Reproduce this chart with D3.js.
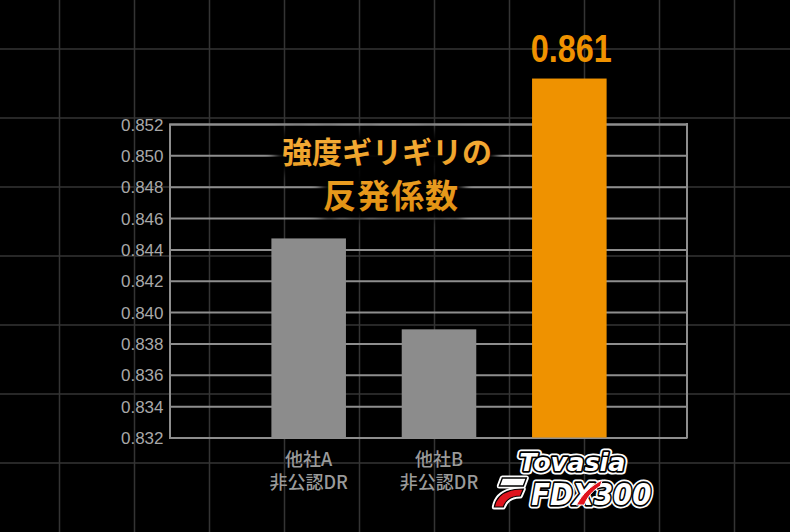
<!DOCTYPE html>
<html><head><meta charset="utf-8">
<script src="https://cdn.jsdelivr.net/npm/d3@7"></script>
<style>
html,body{margin:0;padding:0;background:#000;}
svg{display:block;}
</style></head>
<body>
<svg id="chart" width="790" height="532"></svg>
<script>
// ---- data ----
const categories = ["他社A", "他社B", "FDX300"];
const categorySubLabels = ["非公認DR", "非公認DR", ""];
const values = [0.8447, 0.8389, 0.861];
const valueLabels = ["", "", "0.861"];
const yTicks = [0.832, 0.834, 0.836, 0.838, 0.840, 0.842, 0.844, 0.846, 0.848, 0.850, 0.852];
const yTickLabels = ["0.832","0.834","0.836","0.838","0.840","0.842","0.844","0.846","0.848","0.850","0.852"];
const axisBreakValue = 0.8549; // highlighted bar is cut off here (axis break)
const titleLines = ["強度ギリギリの", "反発係数"];
const logoLines = ["Tovasia", "FDX300"];

// ---- layout ----
const W = 790, H = 532;
const plot = {left: 169.5, right: 687, top: 124, bottom: 437.5};
const svg = d3.select("#chart");
svg.append("rect").attr("width", W).attr("height", H).attr("fill", "#000");

const defs = svg.append("defs");
const tg = defs.append("linearGradient").attr("id","titleGrad").attr("x1",0).attr("y1",0).attr("x2",0).attr("y2",1);
tg.append("stop").attr("offset","0%").attr("stop-color","#f7ae3a");
tg.append("stop").attr("offset","100%").attr("stop-color","#e0900f");
const blur = defs.append("filter").attr("id","glow").attr("x","-20%").attr("y","-40%").attr("width","140%").attr("height","180%");
blur.append("feGaussianBlur").attr("stdDeviation", 5);

// background grid
const bg = svg.append("g");
d3.range(59.5, W, 75).forEach(x => bg.append("line").attr("x1",x).attr("x2",x).attr("y1",0).attr("y2",H)
  .attr("stroke","#343434").attr("stroke-width",1.5));
d3.range(49, H, 69).forEach(y => bg.append("line").attr("y1",y).attr("y2",y).attr("x1",0).attr("x2",W)
  .attr("stroke","#343434").attr("stroke-width",1.5));

// scales
const y = d3.scaleLinear().domain([yTicks[0], yTicks[yTicks.length-1]]).range([plot.bottom, plot.top]);
const x = d3.scaleBand().domain(categories).range([243.5, 634.5]).paddingInner(0.428).paddingOuter(0.214);

// y axis + gridlines
const yAxis = d3.axisLeft(y).tickValues(yTicks).tickFormat((d,i) => yTickLabels[i])
  .tickSize(-(plot.right - plot.left)).tickPadding(6);
const ag = svg.append("g").attr("transform", `translate(${plot.left},0)`).call(yAxis);
ag.select(".domain").attr("stroke","#8e8e8e").attr("stroke-width",2);
ag.selectAll(".tick line").attr("stroke","#8e8e8e").attr("stroke-width",2);
ag.selectAll(".tick text").attr("fill","#a8a8a8").attr("font-size","17px")
  .attr("font-family","'Liberation Sans', Arial, sans-serif").attr("dy","0.36em");
svg.append("line").attr("x1",plot.right).attr("x2",plot.right).attr("y1",plot.top-1).attr("y2",plot.bottom+1)
  .attr("stroke","#8e8e8e").attr("stroke-width",2);

// title with dark glow (one text element, two lines)
const tG = svg.append("g").attr("font-family","'Noto Sans CJK JP', sans-serif").attr("font-weight",700).attr("text-anchor","middle");
const titleSpec = [{x:387, y:163, size:30}, {x:391, y:208, size:33}];
function titleText(fillSel) {
  const t = tG.append("text");
  titleLines.forEach((s,i) => {
    t.append("tspan").attr("x",titleSpec[i].x).attr("y",titleSpec[i].y).attr("font-size",titleSpec[i].size)
      .attr("letter-spacing", i===1 ? "1px" : "0px").text(s);
  });
  fillSel(t);
}
titleText(t => t.attr("fill","#000").attr("stroke","#000").attr("stroke-width",14).attr("filter","url(#glow)"));
titleText(t => t.attr("fill","url(#titleGrad)"));

// bars
const barColor = (d,i) => i === values.length-1 ? "#ef9200" : "#8c8c8c";
svg.append("g").selectAll("rect").data(values).join("rect")
  .attr("x", (d,i) => x(categories[i]))
  .attr("width", x.bandwidth())
  .attr("y", d => y(Math.min(d, axisBreakValue)))
  .attr("height", d => plot.bottom - y(Math.min(d, axisBreakValue)))
  .attr("fill", barColor);

// value label
const vg = svg.append("g");
values.forEach((v,i) => {
  if (!valueLabels[i]) return;
  vg.append("text")
    .attr("x", x(categories[i]) + x.bandwidth()/2 + 2)
    .attr("y", y(Math.min(v, axisBreakValue)) - 17)
    .attr("text-anchor","middle")
    .attr("font-family","'Liberation Sans Narrow','Arial Narrow','Liberation Sans',sans-serif")
    .attr("font-weight",700).attr("font-size",39).attr("fill","#ef9200")
    .attr("textLength",81).attr("lengthAdjust","spacingAndGlyphs")
    .text(valueLabels[i]);
});

// category labels (one text element with two lines each)
const lg = svg.append("g").attr("font-family","'Noto Sans CJK JP', sans-serif").attr("font-size",18)
  .attr("font-weight",500).attr("fill","#9a9a9a").attr("text-anchor","middle");
categories.forEach((c,i) => {
  if (i === categories.length-1) return;
  const cx = x(c) + x.bandwidth()/2;
  const t = lg.append("text");
  t.append("tspan").attr("x",cx).attr("y",465.5).text(c);
  t.append("tspan").attr("x",cx).attr("y",488.5).text(categorySubLabels[i]);
});

// logo for highlighted category
const lcx = x(categories[2]) + x.bandwidth()/2;
const logo = svg.append("g");
function outlined(g, txt, xx, yy, size, len) {
  const base = sel => sel.attr("x",xx).attr("y",yy).attr("font-size",size)
    .attr("font-family","'DejaVu Sans', sans-serif").attr("font-weight",700).attr("font-style","italic")
    .attr("text-anchor","middle").attr("textLength",len).attr("lengthAdjust","spacingAndGlyphs").text(txt);
  g.append("text").call(base).attr("fill","#fff").attr("stroke","#fff").attr("stroke-width",7).attr("stroke-linejoin","round");
  g.append("text").call(base).attr("fill","#000").attr("stroke","#000").attr("stroke-width",3.4).attr("stroke-linejoin","round");
  g.append("text").call(base).attr("fill","#fff");
}
outlined(logo, logoLines[0], lcx + 3, 471, 24, 106);
outlined(logo, logoLines[1], lcx + 22, 505, 31, 120);
// red swoosh across X
logo.append("path").attr("d", `M${lcx+7},505 C${lcx+13},494 ${lcx+21},486 ${lcx+33},480 L${lcx+31},486 C${lcx+23},491 ${lcx+18},497 ${lcx+15},505 Z`)
  .attr("fill","#e0141e").attr("stroke","#fff").attr("stroke-width",1);
// F swoosh emblem
const ex = lcx - 76, ey = 478;
const emb = logo.append("g").attr("transform",`translate(${ex},${ey})`);
emb.append("path").attr("d","M9,0 L33,0 L30,8 L6,8 Z").attr("fill","#fff").attr("stroke","#fff").attr("stroke-width",5).attr("stroke-linejoin","round");
emb.append("path").attr("d","M1,29 C3,18 11,11 30,11 L27,18 C17,18 12,23 10,29 Z").attr("fill","#fff").attr("stroke","#fff").attr("stroke-width",5).attr("stroke-linejoin","round");
emb.append("path").attr("d","M9,0 L33,0 L30,8 L6,8 Z").attr("fill","#fff").attr("stroke","#000").attr("stroke-width",1.4);
emb.append("path").attr("d","M1,29 C3,18 11,11 30,11 L27,18 C17,18 12,23 10,29 Z").attr("fill","#e0141e").attr("stroke","#000").attr("stroke-width",1.2);
</script>
</body></html>
